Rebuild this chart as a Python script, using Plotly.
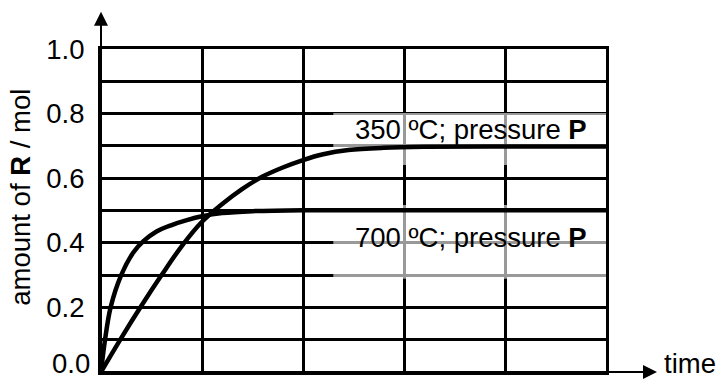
import plotly.graph_objects as go

# Amount of R formed over time at two temperatures (same pressure P)
time_350 = [0, 0.2, 0.4, 0.6, 0.8, 1.0, 1.2, 1.4, 1.6, 1.8, 2.0, 2.2, 2.45, 2.8, 3.2, 4.0, 5.0]
amount_350 = [0, 0.105, 0.205, 0.3, 0.39, 0.465, 0.52, 0.567, 0.605, 0.633, 0.656, 0.674,
              0.687, 0.694, 0.697, 0.698, 0.698]

time_700 = [0, 0.04, 0.095, 0.2, 0.32, 0.42, 0.55, 0.7, 0.85, 1.0, 1.2, 1.5, 2.0, 5.0]
amount_700 = [0, 0.1, 0.2, 0.3, 0.37, 0.405, 0.435, 0.455, 0.47, 0.482, 0.492, 0.498, 0.501, 0.501]

y_ticks = [0.0, 0.1, 0.2, 0.3, 0.4, 0.5, 0.6, 0.7, 0.8, 0.9, 1.0]
y_tick_text = ["", "", "0.2", "", "0.4", "", "0.6", "", "0.8", "", "1.0"]
origin_label = "0.0"
x_ticks = [0, 1, 2, 3, 4, 5]

label_350 = "350 ºC; pressure <b>P</b>"
label_700 = "700 ºC; pressure <b>P</b>"

FONT = "Liberation Sans, Arial, sans-serif"
FS = 27.5
BLACK = "#000000"

fig = go.Figure()

for t, a in ((time_350, amount_350), (time_700, amount_700)):
    fig.add_trace(go.Scatter(
        x=t, y=a, mode="lines",
        line=dict(color=BLACK, width=4.5, shape="spline", smoothing=1),
        hoverinfo="skip", showlegend=False, cliponaxis=False,
    ))

# Faded panels behind the curve labels
for y0, y1 in ((0.641, 0.802), (0.289, 0.517)):
    fig.add_shape(type="rect", xref="x", yref="y", x0=2.3, x1=5.01, y0=y0, y1=y1,
                  fillcolor="white", opacity=0.6, line=dict(width=0), layer="between")

fig.add_annotation(x=4.83, y=0.752, xref="x", yref="y", text=label_350,
                   showarrow=False, xanchor="right", yanchor="middle",
                   font=dict(family=FONT, size=FS, color=BLACK))
fig.add_annotation(x=4.83, y=0.415, xref="x", yref="y", text=label_700,
                   showarrow=False, xanchor="right", yanchor="middle",
                   font=dict(family=FONT, size=FS, color=BLACK))

# Axis arrows
fig.add_annotation(x=0, y=1.115, ax=0, ay=0, xref="x", yref="y", axref="x", ayref="y",
                   showarrow=True, arrowhead=2, arrowsize=1.4, arrowwidth=2, arrowcolor=BLACK, text="")
fig.add_annotation(x=5.505, y=0, ax=0, ay=0, xref="x", yref="y", axref="x", ayref="y",
                   showarrow=True, arrowhead=2, arrowsize=1.4, arrowwidth=2, arrowcolor=BLACK, text="")

# Labels sitting on the bottom edge, nudged up to stay inside the page
fig.add_annotation(x=1.11, y=0, xref="paper", yref="paper", text="time", showarrow=False,
                   xanchor="left", yanchor="middle", yshift=9,
                   font=dict(family=FONT, size=FS, color=BLACK))
fig.add_annotation(x=0, y=0, xref="paper", yref="paper", text=origin_label, showarrow=False,
                   xanchor="right", yanchor="middle", yshift=9, xshift=-9,
                   font=dict(family=FONT, size=FS, color=BLACK))

fig.add_annotation(x=-0.16, y=0.54, xref="paper", yref="paper",
                   text="amount of <b>R</b> / mol", textangle=-90, showarrow=False,
                   xanchor="center", yanchor="middle",
                   font=dict(family=FONT, size=FS, color=BLACK))

fig.update_xaxes(range=[0, 5], tickvals=x_ticks, showticklabels=False, ticks="",
                 automargin=False,
                 showgrid=True, gridcolor=BLACK, gridwidth=3, zeroline=False,
                 showline=True, mirror=True, linecolor=BLACK, linewidth=3)
fig.update_yaxes(range=[0, 1], tickvals=y_ticks, ticktext=y_tick_text, ticks="",
                 ticklabelstandoff=8, automargin=False,
                 tickfont=dict(family=FONT, size=FS, color=BLACK),
                 showgrid=True, gridcolor=BLACK, gridwidth=3, zeroline=False,
                 showline=True, mirror=True, linecolor=BLACK, linewidth=3)

fig.update_layout(
    width=716, height=379,
    margin=dict(l=101, r=110, t=49, b=7, autoexpand=False),
    paper_bgcolor="white", plot_bgcolor="white",
    font=dict(family=FONT, color=BLACK),
)

fig.write_html("out.html")
